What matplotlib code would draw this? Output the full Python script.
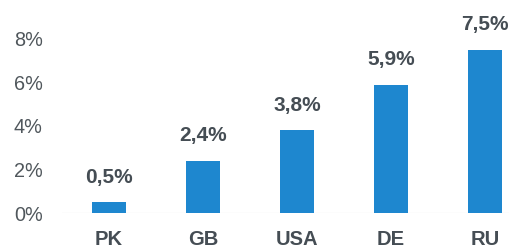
import matplotlib.pyplot as plt

countries = ["PK", "GB", "USA", "DE", "RU"]
shares = [0.5, 2.4, 3.8, 5.9, 7.5]
value_labels = ["0,5%", "2,4%", "3,8%", "5,9%", "7,5%"]
y_ticks = [0, 2, 4, 6, 8]
y_tick_labels = ["0%", "2%", "4%", "6%", "8%"]

bar_color = "#1e87cf"
text_color = "#454d54"

plt.rcParams['font.family'] = ['Liberation Sans', 'DejaVu Sans']

W, H = 510, 245
fig = plt.figure(figsize=(W / 100, H / 100), dpi=100)
ax = fig.add_axes([62 / W, 32 / H, (W - 62) / W, (213 - 28) / H])

x = range(len(countries))
ax.bar(x, shares, width=0.36, color=bar_color, zorder=2)
ax.axhline(0, color="#f2f2f2", lw=1, zorder=1)

for xi, v, lab in zip(x, shares, value_labels):
    ax.annotate(lab, (xi, v), xytext=(0, 11), textcoords="offset points",
                ha="center", va="bottom", fontsize=15, fontweight="bold",
                color=text_color)

ax.set_xlim(-0.5, 4.266)
ax.set_ylim(0, 8.5)
ax.set_xticks(list(x))
ax.set_xticklabels(countries, fontsize=14.5, fontweight="bold", color=text_color)
ax.set_yticks(y_ticks)
ax.set_yticklabels(y_tick_labels, fontsize=14.3, color="#50575c")
ax.tick_params(axis="x", length=0, pad=12)
ax.tick_params(axis="y", length=0, pad=14)
for s in ax.spines.values():
    s.set_visible(False)

fig.savefig("out.png", dpi=100)
